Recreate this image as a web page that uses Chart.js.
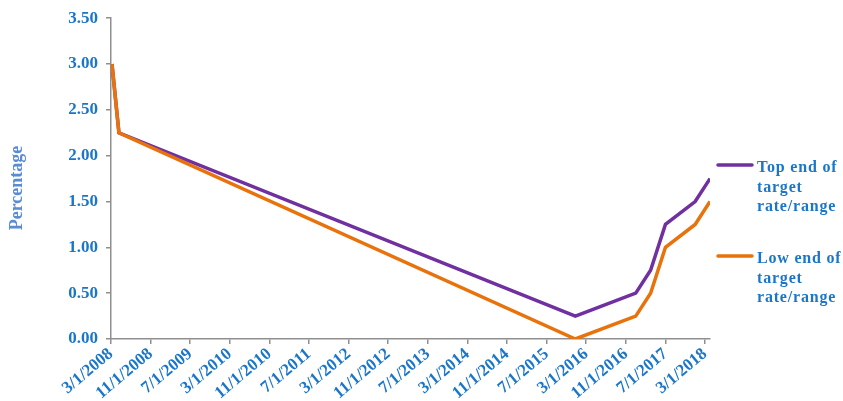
<!DOCTYPE html>
<html>
<head>
<meta charset="utf-8">
<script src="https://cdn.jsdelivr.net/npm/chart.js@4.4.1/dist/chart.umd.min.js"></script>
<style>
  html, body { margin: 0; padding: 0; background: #fff; }
  #wrap { width: 843px; height: 401px; }
</style>
</head>
<body>
<div id="wrap"><canvas id="rateChart"></canvas></div>
<script>
// months counted from 3/1/2008
const months = [0.2, 1.6, 93.8, 106, 109, 112, 118, 121];
const topEnd = [3.0, 2.25, 0.25, 0.5, 0.75, 1.25, 1.5, 1.75];
const lowEnd = [3.0, 2.25, 0.0, 0.25, 0.5, 1.0, 1.25, 1.5];
const xTickLabels = [
  "3/1/2008", "11/1/2008", "7/1/2009", "3/1/2010", "11/1/2010", "7/1/2011",
  "3/1/2012", "11/1/2012", "7/1/2013", "3/1/2014", "11/1/2014", "7/1/2015",
  "3/1/2016", "11/1/2016", "7/1/2017", "3/1/2018"
];
const tickStep = 8;

const blue = "#1a76c9";
const axisGrey = "#8f8f8f";
const serif = "'Liberation Serif', 'Times New Roman', serif";

function toPoints(ys) {
  return months.map((m, i) => ({ x: m, y: ys[i] }));
}

// legend on the right with wrapped text, plus the y axis caption
const sideLegend = {
  id: "sideLegend",
  afterDraw(chart) {
    const ctx = chart.ctx;
    const tops = [165, 256];
    ctx.save();
    ctx.font = "bold 16px " + serif;
    ctx.letterSpacing = "0.8px";
    ctx.textBaseline = "middle";
    chart.data.datasets.forEach((ds, i) => {
      const y = tops[i];
      ctx.strokeStyle = ds.borderColor;
      ctx.lineWidth = 3.5;
      ctx.lineCap = "round";
      ctx.beginPath();
      ctx.moveTo(718, y);
      ctx.lineTo(752, y);
      ctx.stroke();

      // simple word wrap
      const words = ds.label.split(" ");
      const lines = [];
      let cur = "";
      words.forEach(w => {
        const test = cur ? cur + " " + w : w;
        if (cur && ctx.measureText(test).width > 100) {
          lines.push(cur);
          cur = w;
        } else {
          cur = test;
        }
      });
      lines.push(cur);
      ctx.fillStyle = blue;
      lines.forEach((ln, k) => ctx.fillText(ln, 757, y + 3 + k * 19.5));
    });

    ctx.letterSpacing = "0px";
    ctx.font = "bold 18px " + serif;
    ctx.fillStyle = "#5b8bd0";
    ctx.textAlign = "center";
    ctx.translate(17, 188);
    ctx.rotate(-Math.PI / 2);
    ctx.fillText("Percentage", 0, 0);
    ctx.restore();
  }
};

new Chart(document.getElementById("rateChart"), {
  type: "line",
  data: {
    datasets: [
      {
        label: "Top end of target rate/range",
        data: toPoints(topEnd),
        borderColor: "#7030a0",
        borderWidth: 3.5,
        pointRadius: 0,
        tension: 0,
        order: 1,
      },
      {
        label: "Low end of target rate/range",
        data: toPoints(lowEnd),
        borderColor: "#e8720c",
        borderWidth: 3.5,
        pointRadius: 0,
        tension: 0,
        order: 0,
      },
    ],
  },
  options: {
    responsive: true,
    maintainAspectRatio: false,
    animation: false,
    layout: { padding: { top: 15, right: 133, left: 6, bottom: 0 } },
    plugins: {
      legend: { display: false },
      tooltip: { enabled: false },
    },
    scales: {
      x: {
        type: "linear",
        min: 0,
        max: 121,
        afterBuildTicks(scale) {
          scale.ticks = xTickLabels.map((_, i) => ({ value: i * tickStep }));
        },
        afterFit(scale) {
          scale.height = 62;
        },
        ticks: {
          autoSkip: false,
          minRotation: 40,
          maxRotation: 40,
          padding: 0,
          color: blue,
          font: { family: serif, size: 17, weight: "bold" },
          callback: (value, index) => xTickLabels[index],
        },
        grid: { drawOnChartArea: false, tickLength: 5, color: axisGrey, lineWidth: 1.5 },
        border: { color: axisGrey, width: 1.5 },
      },
      y: {
        min: 0,
        max: 3.5,
        afterFit(scale) {
          scale.width = 105;
        },
        ticks: {
          stepSize: 0.5,
          padding: 8,
          color: blue,
          font: { family: serif, size: 17, weight: "bold" },
          callback: (v) => v.toFixed(2),
        },
        grid: { drawOnChartArea: false, tickLength: 5, color: axisGrey, lineWidth: 1.5 },
        border: { color: axisGrey, width: 1.5 },
      },
    },
  },
  plugins: [sideLegend],
});
</script>
</body>
</html>
